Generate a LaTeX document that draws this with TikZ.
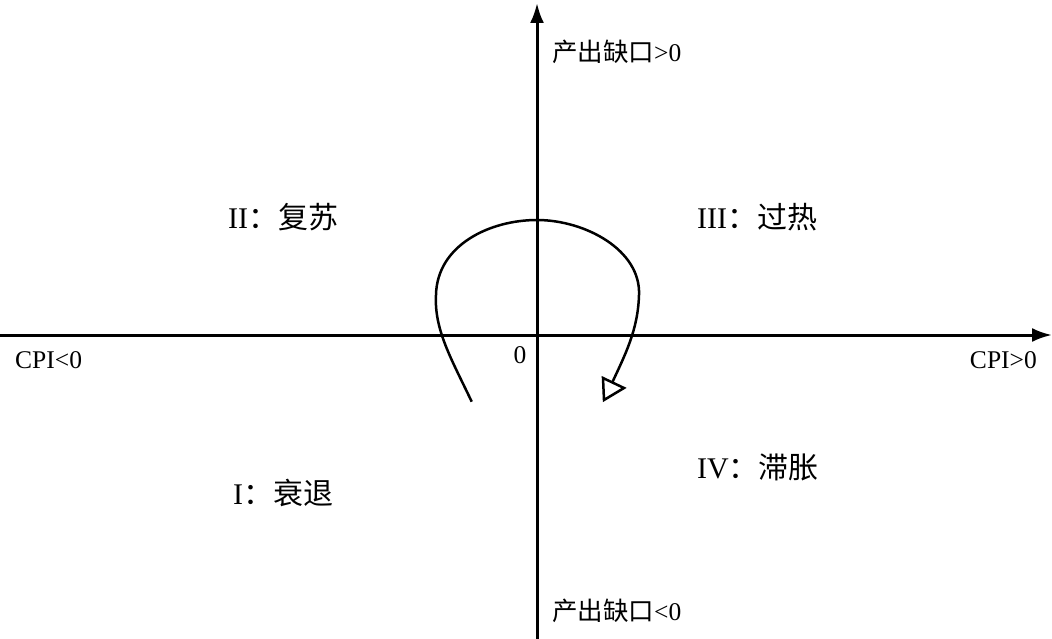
\documentclass[tikz,border=0pt]{standalone}
\usepackage{fontspec}
\setmainfont{Liberation Serif}
\newfontfamily\cjk{Noto Sans CJK SC}
\usetikzlibrary{arrows.meta}
\begin{document}
\begin{tikzpicture}[x=1pt,y=-1pt,
  axis/.style={line width=3pt,-{Latex[length=20pt,width=14pt]}},
  cycle/.style={line width=2.5pt},
  lbl/.style={inner sep=0pt,font=\fontsize{25.5}{28}\selectfont},
  quad/.style={inner sep=0pt,anchor=west,font=\fontsize{30}{32}\selectfont}]
\useasboundingbox (0,0) rectangle (1052,639);
\coordinate (xl) at (0,335);
\coordinate (xr) at (1052,335);
\coordinate (yb) at (537,639);
\coordinate (yt) at (537,3);
\draw[axis] (xl) -- (xr);
\draw[axis] (yb) -- (yt);
\node[lbl,anchor=west] (ytop) at (552,52) {{\cjk 产出缺口}>0};
\node[lbl,anchor=west] (ybot) at (552,611) {{\cjk 产出缺口}<0};
\node[lbl,anchor=west] (cpin) at (15,360) {CPI<0};
\node[lbl,anchor=east] (cpip) at (1037,360) {CPI>0};
\node[lbl] (orig) at (520,355) {0};
\node[quad] (q2) at (228,217) {II{\cjk ：复苏}};
\node[quad] (q3) at (697,217) {III{\cjk ：过热}};
\node[quad] (q4) at (697,467) {IV{\cjk ：滞胀}};
\node[quad] (q1) at (233,493) {I{\cjk ：衰退}};
\coordinate (c0) at (471.7,401.7);
\coordinate (c1) at (436,295);
\coordinate (c2) at (537,220);
\coordinate (c3) at (639,295);
\coordinate (c4) at (612,383);
\draw[cycle] (c0) .. controls (452,360) and (434,330) .. (c1)
  .. controls (437,245) and (490,220) .. (c2)
  .. controls (585,220) and (641,250) .. (c3)
  .. controls (638,330) and (625,355) .. (c4);
\draw[line width=2.5pt,fill=white,line join=miter] (603,378) -- (624,388) -- (604,400) -- cycle;
\end{tikzpicture}
\end{document}
